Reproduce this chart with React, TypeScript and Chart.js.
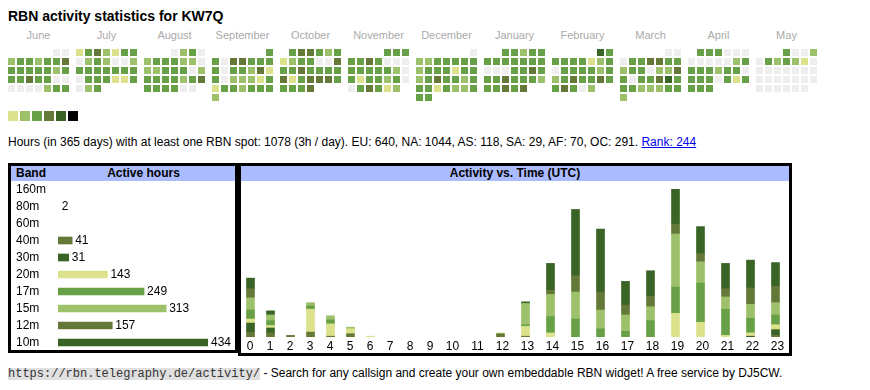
import React, { useEffect, useRef } from 'react';
import { Chart, registerables } from 'chart.js';

Chart.register(...registerables);

const FONT = "'Liberation Sans', Arial, Helvetica, sans-serif";
const MONO = "'Liberation Mono', 'DejaVu Sans Mono', monospace";
Chart.defaults.font.family = FONT;
Chart.defaults.color = '#000';

// ---------- palette ----------
const C_NONE = '#eeeeee';
const C1 = '#dbe28b';
const C2 = '#9dc16b';
const C3 = '#67a046';
const C4 = '#647938';
const C5 = '#3a6326';
const C6 = '#000000';
const LEVEL_COLORS = [C_NONE, C1, C2, C3, C4, C5, C6];
const HEADER_BG = '#aabbff';

// ---------- texts ----------
const title = 'RBN activity statistics for KW7Q';
const summaryText =
  'Hours (in 365 days) with at least one RBN spot: 1078 (3h / day). EU: 640, NA: 1044, AS: 118, SA: 29, AF: 70, OC: 291. ';
const rankText = 'Rank: 244';
const footerUrl = 'https://rbn.telegraphy.de/activity/';
const footerText = ' - Search for any callsign and create your own embeddable RBN widget! A free service by DJ5CW.';

// ---------- calendar (activity level per day, 0 = none) ----------
const firstMonth = { year: 2024, month: 5 }; // June 2024
const monthNames = ['June', 'July', 'August', 'September', 'October', 'November', 'December', 'January', 'February', 'March', 'April', 'May'];
const jun24 = [0, 0, 2, 3, 3, 2, 3, 3, 4, 3, 3, 3, 3, 3, 2, 3, 3, 3, 4, 3, 3, 0, 0, 0, 0, 0, 0, 2, 3, 3];
const jul24 = [1, 3, 4, 2, 1, 3, 3, 0, 2, 3, 2, 0, 0, 2, 3, 3, 3, 3, 3, 3, 3, 0, 3, 3, 3, 1, 1, 3, 0, 2, 3];
const aug24 = [0, 2, 3, 0, 2, 3, 3, 3, 2, 2, 0, 2, 2, 3, 3, 3, 0, 2, 3, 3, 3, 3, 2, 3, 4, 3, 3, 3, 3, 0, 0];
const sep24 = [3, 3, 0, 4, 4, 3, 3, 3, 3, 0, 3, 3, 2, 4, 1, 3, 0, 2, 2, 2, 1, 3, 1, 3, 3, 2, 3, 3, 3, 2];
const oct24 = [3, 4, 4, 3, 2, 3, 1, 2, 3, 3, 0, 0, 4, 3, 3, 4, 3, 3, 3, 3, 4, 1, 3, 4, 4, 4, 3, 3, 3, 3, 4];
const nov24 = [3, 3, 3, 3, 3, 4, 3, 0, 0, 0, 3, 3, 3, 3, 3, 2, 0, 3, 1, 3, 3, 2, 3, 0, 0, 3, 4, 3, 1, 2];
const dec24 = [0, 2, 2, 3, 3, 3, 3, 3, 2, 3, 3, 3, 1, 3, 3, 2, 3, 4, 3, 3, 2, 3, 3, 3, 1, 3, 2, 2, 3, 3, 3];
const jan25 = [3, 3, 2, 3, 3, 3, 3, 3, 3, 3, 3, 3, 0, 0, 0, 3, 3, 4, 3, 3, 3, 4, 3, 3, 3, 2, 3, 3, 4, 3, 4];
const feb25 = [5, 3, 3, 3, 3, 3, 1, 2, 3, 0, 3, 3, 3, 3, 2, 3, 2, 3, 4, 3, 3, 4, 3, 3, 4, 3, 0, 2];
const mar25 = [0, 0, 0, 3, 3, 4, 4, 3, 3, 2, 3, 3, 0, 2, 2, 4, 3, 0, 3, 3, 4, 5, 3, 3, 3, 2, 2, 2, 3, 3, 2];
const apr25 = [3, 3, 3, 0, 0, 0, 0, 0, 0, 0, 0, 2, 3, 3, 3, 3, 2, 3, 3, 0, 3, 3, 3, 0, 3, 1, 3, 3, 3, 3];
const may25 = [3, 0, 0, 2, 0, 3, 2, 3, 2, 1, 0, 0, 0, 0, 0, 0, 0, 0, 0, 0, 0, 0, 0, 0, 0, 0, 0, 0, 0, 0, 0];
const calendar = [jun24, jul24, aug24, sep24, oct24, nov24, dec24, jan25, feb25, mar25, apr25, may25];
const today = { monthIndex: 11, day: 11 };
const legendLevels = [1, 2, 3, 4, 5, 6];

// ---------- bands ----------
const bands = ['160m', '80m', '60m', '40m', '30m', '20m', '17m', '15m', '12m', '10m'];
const bandHours = [0, 2, 0, 41, 31, 143, 249, 313, 157, 434];
const bandColors = [C1, C2, C3, C4, C5, C1, C3, C2, C4, C5];

// ---------- activity vs time (hours per UTC hour, per band) ----------
const hourLabels = ['0', '1', '2', '3', '4', '5', '6', '7', '8', '9', '10', '11', '12', '13', '14', '15', '16', '17', '18', '19', '20', '21', '22', '23'];
const h40m = [6, 5, 2, 6, 1, 4, 0, 0, 0, 0, 0, 0, 4, 1, 0, 0, 0, 0, 0, 0, 0, 0, 0, 2];
const h30m = [11, 6, 0, 0, 0, 0, 0, 0, 0, 0, 0, 0, 0, 0, 0, 0, 0, 0, 0, 0, 0, 0, 1, 7];
const h20m = [5, 3, 0, 28, 15, 6, 1, 0, 0, 0, 0, 0, 1, 12, 5, 0, 0, 0, 0, 29, 18, 2, 4, 6];
const h17m = [11, 6, 0, 4, 5, 0, 0, 0, 0, 0, 0, 0, 0, 2, 20, 22, 10, 7, 20, 32, 48, 32, 18, 12];
const h15m = [15, 7, 0, 4, 5, 2, 0, 0, 0, 0, 0, 0, 0, 26, 27, 33, 23, 20, 17, 65, 26, 15, 17, 15];
const h12m = [11, 0, 0, 0, 0, 0, 0, 0, 0, 0, 0, 0, 0, 0, 5, 20, 22, 12, 13, 12, 10, 10, 20, 20];
const h10m = [13, 5, 0, 0, 0, 0, 0, 0, 0, 0, 0, 0, 0, 2, 33, 81, 77, 29, 31, 43, 33, 31, 34, 29];
const hourSeries = [
  { band: '40m', data: h40m, color: C4 },
  { band: '30m', data: h30m, color: C5 },
  { band: '20m', data: h20m, color: C1 },
  { band: '17m', data: h17m, color: C3 },
  { band: '15m', data: h15m, color: C2 },
  { band: '12m', data: h12m, color: C4 },
  { band: '10m', data: h10m, color: C5 },
];

// ---------- layout ----------
const CELL = 7;
const STEP = 9;
const BLOCK_X0 = 8;
const BLOCK_STEP = 68;
const ROW_Y0 = 49;
const SWATCH = 10;
const SWATCH_STEP = 12;
const SWATCH_Y = 111;
const HM = { left: 8, top: 45, width: 822, height: 80 };
const BAND = { left: 11, top: 181, width: 224, height: 170 };
const ACT = { left: 240, top: 181, width: 550, height: 172 };

const rectRadius = (side: number) => side / 2 / Math.SQRT1_2;

function weekdayOffset(m: number) {
  const d = new Date(firstMonth.year, firstMonth.month + m, 1);
  return (d.getDay() + 6) % 7;
}

const noScalePadding = (s: any) => {
  s.paddingLeft = 0;
  s.paddingRight = 0;
  s.paddingTop = 0;
  s.paddingBottom = 0;
};

function heatmapConfig(): any {
  const cells: any[] = [];
  const cellColors: string[] = [];
  calendar.forEach((days, m) => {
    const off = weekdayOffset(m);
    days.forEach((lvl, d) => {
      const idx = off + d;
      cells.push({
        x: BLOCK_X0 + BLOCK_STEP * m + STEP * (idx % 7) + CELL / 2,
        y: ROW_Y0 + STEP * Math.floor(idx / 7) + CELL / 2,
      });
      cellColors.push(LEVEL_COLORS[lvl]);
    });
  });
  const tIdx = weekdayOffset(today.monthIndex) + today.day - 1;
  const todayPt = {
    x: BLOCK_X0 + BLOCK_STEP * today.monthIndex + STEP * (tIdx % 7) + CELL / 2,
    y: ROW_Y0 + STEP * Math.floor(tIdx / 7) + CELL / 2,
  };
  const swatches = legendLevels.map((_, i) => ({ x: BLOCK_X0 + SWATCH_STEP * i + SWATCH / 2, y: SWATCH_Y + SWATCH / 2 }));
  return {
    type: 'scatter',
    data: {
      datasets: [
        { data: cells, pointStyle: 'rect', pointRadius: rectRadius(CELL), pointBackgroundColor: cellColors, pointBorderWidth: 0, clip: false },
        { data: [todayPt], pointStyle: 'rect', pointRadius: rectRadius(CELL - 1), pointBackgroundColor: '#ffffff', pointBorderColor: '#ff0000', pointBorderWidth: 1, clip: false },
        { data: swatches, pointStyle: 'rect', pointRadius: rectRadius(SWATCH), pointBackgroundColor: legendLevels.map((l) => LEVEL_COLORS[l]), pointBorderWidth: 0, clip: false },
      ],
    },
    options: {
      responsive: false,
      animation: false,
      events: [],
      layout: { padding: 0, autoPadding: false },
      scales: {
        x: { type: 'linear', display: false, min: HM.left, max: HM.left + HM.width },
        y: { type: 'linear', display: false, min: HM.top, max: HM.top + HM.height, reverse: true },
      },
      plugins: { legend: { display: false }, tooltip: { enabled: false } },
    },
  };
}

const bandValueLabels = {
  id: 'bandValueLabels',
  afterDatasetsDraw(chart: any) {
    const meta = chart.getDatasetMeta(0);
    const ctx = chart.ctx;
    ctx.save();
    ctx.font = `12px ${FONT}`;
    ctx.fillStyle = '#000';
    ctx.textAlign = 'left';
    ctx.textBaseline = 'middle';
    meta.data.forEach((bar: any, i: number) => {
      const v = bandHours[i];
      if (!v) return;
      ctx.fillText(String(v), bar.x + 3, bar.y);
    });
    ctx.restore();
  },
};

function bandConfig(): any {
  const maxH = Math.max(...bandHours);
  return {
    type: 'bar',
    data: {
      labels: bands,
      datasets: [
        {
          data: bandHours,
          backgroundColor: (c: any) => {
            const s = c.chart.scales.x;
            if (!s) return bandColors[c.dataIndex];
            const w = s.getPixelForValue(c.raw) - s.getPixelForValue(0);
            return w < 1 ? 'rgba(0,0,0,0)' : bandColors[c.dataIndex];
          },
          borderWidth: 0,
          barThickness: 7,
        },
      ],
    },
    options: {
      indexAxis: 'y',
      responsive: false,
      animation: false,
      events: [],
      layout: { padding: { left: 5, right: 27, top: 0, bottom: 0 }, autoPadding: false },
      scales: {
        x: { display: false, min: 0, max: maxH },
        y: {
          grid: { display: false, drawTicks: false },
          border: { display: false },
          ticks: { autoSkip: false, crossAlign: 'far', padding: 0, color: '#000', font: { size: 12, family: FONT } },
          afterFit: (s: any) => {
            s.width = 42;
            noScalePadding(s);
          },
        },
      },
      plugins: { legend: { display: false }, tooltip: { enabled: false } },
    },
    plugins: [bandValueLabels],
  };
}

// hour columns: narrower for one-digit labels, wider for two-digit labels
const colWidth = (label: string) => (label.length > 1 ? 25 : 20);
const colLefts = hourLabels.map((_, i) => hourLabels.slice(0, i).reduce((a, l) => a + colWidth(l), 0));
const tableWidth = hourLabels.reduce((a, l) => a + colWidth(l), 0);

function activityConfig(): any {
  const barX = colLefts.map((l) => l + 10.5);
  const labelX = colLefts.map((l, i) => l + colWidth(hourLabels[i]) / 2);
  const totals = hourLabels.map((_, i) => hourSeries.reduce((a, s) => a + s.data[i], 0));
  return {
    type: 'bar',
    data: {
      datasets: hourSeries.map((s) => ({
        label: s.band,
        data: s.data.map((v, i) => ({ x: barX[i], y: v > 0 ? v : null })),
        backgroundColor: s.color,
        borderWidth: 0,
        barThickness: 8,
      })),
    },
    options: {
      responsive: false,
      animation: false,
      events: [],
      layout: { padding: { top: 8, left: 0, right: 0, bottom: 0 }, autoPadding: false },
      scales: {
        x: {
          type: 'linear',
          stacked: true,
          offset: false,
          min: 0,
          max: tableWidth,
          grid: { display: false, drawTicks: false, offset: false },
          border: { display: false },
          afterBuildTicks: (s: any) => {
            s.ticks = labelX.map((v) => ({ value: v }));
          },
          afterFit: (s: any) => {
            s.height = 16;
            noScalePadding(s);
          },
          ticks: {
            autoSkip: false,
            maxRotation: 0,
            padding: 2,
            color: '#000',
            font: { size: 12, family: FONT },
            callback: (_v: any, i: number) => hourLabels[i],
          },
        },
        y: { display: false, stacked: true, min: 0, max: Math.max(...totals), afterFit: noScalePadding },
      },
      plugins: { legend: { display: false }, tooltip: { enabled: false } },
    },
  };
}

function ChartCanvas({ box, make }: { box: { left: number; top: number; width: number; height: number }; make: () => any }) {
  const ref = useRef<HTMLCanvasElement>(null);
  useEffect(() => {
    if (!ref.current) return;
    const chart = new Chart(ref.current, make());
    return () => chart.destroy();
  }, []);
  return (
    <canvas
      ref={ref}
      width={box.width}
      height={box.height}
      style={{ position: 'absolute', left: box.left, top: box.top, width: box.width, height: box.height }}
    />
  );
}

const abs = (s: any) => ({ position: 'absolute' as const, ...s });

export default function App() {
  return (
    <div style={abs({ left: 0, top: 0, width: 870, height: 390, fontFamily: FONT, color: '#000', background: '#fff' })}>
      <div style={abs({ left: 8, top: 8, fontSize: 14, fontWeight: 'bold', lineHeight: '16px', whiteSpace: 'nowrap' })}>{title}</div>
      {monthNames.map((n, i) => (
        <div
          key={n}
          style={abs({ left: BLOCK_X0 + BLOCK_STEP * i - 3.5, top: 29, width: 68, textAlign: 'center', fontSize: 11, lineHeight: '13px', color: '#aaaaaa' })}
        >
          {n}
        </div>
      ))}
      <ChartCanvas box={HM} make={heatmapConfig} />
      <div style={abs({ left: 8, top: 135, fontSize: 12, lineHeight: '14px', whiteSpace: 'nowrap' })}>
        {summaryText}
        <a href="#" style={{ color: '#0000ee', textDecoration: 'underline' }}>
          {rankText}
        </a>
      </div>

      {/* band table */}
      <div style={abs({ left: 8, top: 163, width: 230, height: 190, border: '3px solid #000', boxSizing: 'border-box' })} />
      <div style={abs({ left: 11, top: 166, width: 224, height: 15, background: HEADER_BG })} />
      <div style={abs({ left: 16, top: 166, fontSize: 12, fontWeight: 'bold', lineHeight: '15px' })}>Band</div>
      <div style={abs({ left: 52, top: 166, width: 183, textAlign: 'center', fontSize: 12, fontWeight: 'bold', lineHeight: '15px' })}>Active hours</div>
      <ChartCanvas box={BAND} make={bandConfig} />

      {/* activity vs time */}
      <div style={abs({ left: 238, top: 163, width: 554, height: 193, border: '3px solid #000', boxSizing: 'border-box' })} />
      <div style={abs({ left: 241, top: 166, width: 548, height: 15, background: HEADER_BG })} />
      <div style={abs({ left: 241, top: 166, width: 548, textAlign: 'center', fontSize: 12, fontWeight: 'bold', lineHeight: '15px' })}>
        Activity vs. Time (UTC)
      </div>
      <ChartCanvas box={ACT} make={activityConfig} />

      <div style={abs({ left: 8, top: 365, fontSize: 12, lineHeight: '16px', whiteSpace: 'nowrap' })}>
        <span style={{ display: 'inline-block', fontFamily: MONO, fontSize: 12, lineHeight: '12px', height: 12, background: '#e0e0e0', color: '#333' }}>
          {footerUrl}
        </span>
        {footerText}
      </div>
    </div>
  );
}
